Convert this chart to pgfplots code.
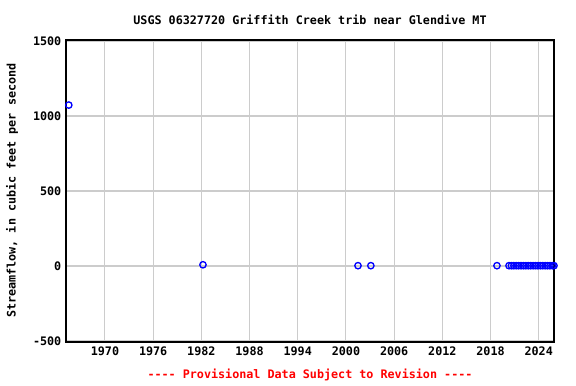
\documentclass[border=0pt]{standalone}
\usepackage{pgfplots}
\pgfplotsset{compat=1.18}
\usepackage{fontspec}
\setmainfont{DejaVu Sans Mono}
\setmonofont{DejaVu Sans Mono}
\begin{document}
\begin{tikzpicture}[x=1pt,y=1pt]
\path (0,0) rectangle (432,288);
\begin{axis}[
  at={(49.5pt,31.5pt)}, anchor=south west,
  scale only axis, width=366pt, height=226.5pt,
  xmin=1965.15, xmax=2025.9, ymin=-507, ymax=1507,
  xtick={1970,1976,1982,1988,1994,2000,2006,2012,2018,2024},
  ytick={-500,0,500,1000,1500},
  yticklabels={-500,0,500,1000,1500},
  xticklabel style={/pgf/number format/1000 sep={}},
  /pgf/number format/assume math mode=true,
  tick label style={font=\ttfamily\fontsize{8.8}{10}\selectfont\bfseries},
  grid=major, major grid style={draw=black!20, line width=0.8pt},
  axis line style={line width=0.8pt},
  tick style={draw=none},
  clip=false,
]
\addplot[only marks, mark=o, mark size=2.4pt, draw=blue, line width=1pt] coordinates {
(1965.5,1073) (1982.2,8) (2001.5,2) (2003.1,2) (2018.8,2)
(2020.3,2) (2020.6,2) (2020.9,2) (2021.2,2) (2021.5,2) (2021.8,2) (2022.1,2)
(2022.4,2) (2022.7,2) (2023.0,2) (2023.3,2) (2023.6,2) (2023.9,2) (2024.2,2)
(2024.5,2) (2024.8,2) (2025.1,2) (2025.4,2) (2025.7,2) (2025.9,2)
};
\end{axis}
\node[font=\ttfamily\fontsize{8.8}{10}\selectfont\bfseries] at (232.5,273) {USGS 06327720 Griffith Creek trib near Glendive MT};
\node[font=\ttfamily\fontsize{8.8}{10}\selectfont\bfseries, text=red] at (232.5,6.5) {-{}-{}-{}- Provisional Data Subject to Revision -{}-{}-{}-};
\node[font=\ttfamily\fontsize{8.8}{10}\selectfont\bfseries, rotate=90] at (9,145) {Streamflow, in cubic feet per second};
\end{tikzpicture}
\end{document}
